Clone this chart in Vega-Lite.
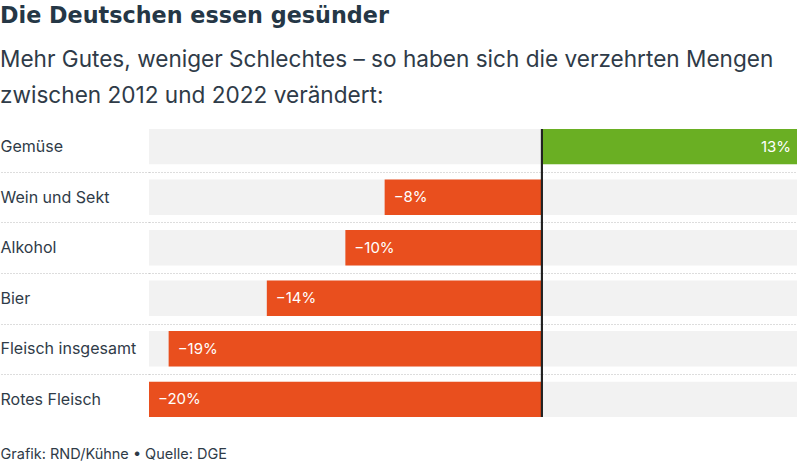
{
  "$schema": "https://vega.github.io/schema/vega-lite/v6.json",
  "width": 648,
  "height": 288,
  "autosize": {"type": "none"},
  "padding": {"left": 149, "top": 129, "right": 3, "bottom": 45},
  "background": "white",
  "config": {"view": {"stroke": null}},
  "title": {
    "text": "Die Deutschen essen gesünder",
    "subtitle": ["Mehr Gutes, weniger Schlechtes – so haben sich die verzehrten Mengen", "zwischen 2012 und 2022 verändert:"],
    "anchor": "start",
    "frame": "group",
    "dx": -149,
    "font": "DejaVu Sans",
    "fontSize": 22.3,
    "fontWeight": "bold",
    "color": "#253746",
    "subtitleFont": "Inter",
    "subtitleFontSize": 22.6,
    "subtitleColor": "#2f3b48",
    "subtitleLineHeight": 36,
    "subtitlePadding": 21,
    "offset": 21
  },
  "data": {
    "values": [
      {"kategorie": "Gemüse", "wert": 13, "label": "13%"},
      {"kategorie": "Wein und Sekt", "wert": -8, "label": "−8%"},
      {"kategorie": "Alkohol", "wert": -10, "label": "−10%"},
      {"kategorie": "Bier", "wert": -14, "label": "−14%"},
      {"kategorie": "Fleisch insgesamt", "wert": -19, "label": "−19%"},
      {"kategorie": "Rotes Fleisch", "wert": -20, "label": "−20%"}
    ]
  },
  "encoding": {
    "y": {
      "field": "kategorie",
      "type": "nominal",
      "sort": null,
      "scale": {"paddingInner": 0.3, "paddingOuter": 0},
      "axis": {
        "title": null,
        "domain": false,
        "bandPosition": 1,
        "tickOffset": 7.6,
        "labelOffset": -7.6,
        "tickSize": 149,
        "tickColor": "#bbbbbb",
        "tickDash": [1, 2],
        "tickWidth": 1,
        "tickOpacity": {"condition": {"test": "datum.value === 'Rotes Fleisch'", "value": 0}, "value": 1},
        "grid": true,
        "gridColor": "#bbbbbb",
        "gridDash": [1, 2],
        "gridWidth": 1,
        "gridOpacity": {"condition": {"test": "datum.value === 'Rotes Fleisch'", "value": 0}, "value": 1},
        "labelAlign": "left",
        "labelPadding": 0,
        "labelFont": "Inter",
        "labelFontSize": 16,
        "labelColor": "#2f3b48",
        "labelBaseline": "middle",
        "labelLimit": 0
      }
    }
  },
  "layer": [
    {
      "mark": {"type": "bar", "color": "#f2f2f2"},
      "encoding": {
        "x": {
          "datum": -20,
          "type": "quantitative",
          "scale": {"domain": [-20, 13], "nice": false, "zero": false},
          "title": "Grafik: RND/Kühne • Quelle: DGE",
          "axis": {
            "grid": false,
            "labels": false,
            "ticks": false,
            "domain": false,
            "titleX": -149,
            "titleY": 41,
            "titleAlign": "left",
            "titleAnchor": null,
            "titleBaseline": "alphabetic",
            "titleFont": "Inter",
            "titleFontSize": 14.5,
            "titleFontWeight": "normal",
            "titleColor": "#2f3b48"
          }
        },
        "x2": {"datum": 13}
      }
    },
    {
      "mark": {"type": "bar"},
      "encoding": {
        "x": {"field": "wert", "type": "quantitative", "title": "Grafik: RND/Kühne • Quelle: DGE"},
        "x2": {"datum": 0},
        "color": {"condition": {"test": "datum.wert > 0", "value": "#6aaf23"}, "value": "#e94f1e"}
      }
    },
    {
      "mark": {"type": "rule", "color": "#222222", "strokeWidth": 1.5},
      "encoding": {"x": {"datum": 0, "type": "quantitative", "title": "Grafik: RND/Kühne • Quelle: DGE"}, "y": null}
    },
    {
      "transform": [{"filter": "datum.wert < 0"}],
      "mark": {"type": "text", "align": "left", "dx": 9, "baseline": "middle", "font": "Inter", "fontSize": 15, "color": "white"},
      "encoding": {
        "x": {"field": "wert", "type": "quantitative", "title": "Grafik: RND/Kühne • Quelle: DGE"},
        "text": {"field": "label"}
      }
    },
    {
      "transform": [{"filter": "datum.wert > 0"}],
      "mark": {"type": "text", "align": "right", "dx": -6, "baseline": "middle", "font": "Inter", "fontSize": 15, "color": "white"},
      "encoding": {
        "x": {"field": "wert", "type": "quantitative", "title": "Grafik: RND/Kühne • Quelle: DGE"},
        "text": {"field": "label"}
      }
    }
  ]
}
